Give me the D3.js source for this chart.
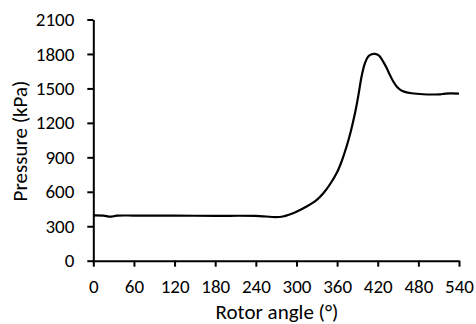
<!DOCTYPE html>
<html>
<head>
<meta charset="utf-8">
<script src="https://cdn.jsdelivr.net/npm/d3@7"></script>
<style>
  html, body { margin: 0; padding: 0; background: #fff; }
  svg text { font-family: Carlito, Lato, "Open Sans", sans-serif; fill: #000; }
</style>
</head>
<body>
<div id="container"></div>
<script>
"use strict"

// values
const angles = [0, 15, 25, 35, 60, 120, 180, 240, 255, 268, 280, 290, 300, 315, 330, 340, 350, 360,
    367, 374, 380, 384, 388, 392, 396, 401, 406, 411, 416, 422, 428, 433, 438, 443, 448, 454,
    460, 470, 487, 500, 512, 520, 540];
const pressures = [395, 393, 383, 392, 393, 392, 391, 390, 385, 380, 385, 403, 427, 472, 530, 589, 670, 770,
    870, 994, 1120, 1220, 1330, 1460, 1600, 1719, 1777, 1797, 1800, 1785, 1733, 1680, 1617, 1560, 1516, 1485,
    1470, 1458, 1449, 1447, 1448, 1455, 1455];
const xTicks = [0, 60, 120, 180, 240, 300, 360, 420, 480, 540];
const yTicks = [0, 300, 600, 900, 1200, 1500, 1800, 2100];
const xTitle = "Rotor angle (°)";
const yTitle = "Pressure (kPa)";

const width = 476;
const height = 324;
const plotLeft = 93.3;
const plotRight = 459;
const plotTop = 19.5;
const plotBottom = 260.7;
const tickFont = 19;
const titleFont = 21;

const points = angles.map((a, i) => ({ x: a, y: pressures[i] }));

const xScale = d3.scaleLinear().domain([0, 540]).range([plotLeft, plotRight]);
const yScale = d3.scaleLinear().domain([0, 2100]).range([plotBottom, plotTop]);

const svg = d3.select("#container")
    .append("svg")
    .attr("width", width)
    .attr("height", height);

// x axis
const xAxis = svg.append("g")
    .attr("transform", `translate(0,${plotBottom})`)
    .call(d3.axisBottom(xScale).tickValues(xTicks).tickFormat(d3.format("d"))
        .tickSize(6).tickSizeOuter(0).tickPadding(13));

// y axis
const yAxis = svg.append("g")
    .attr("transform", `translate(${plotLeft},0)`)
    .call(d3.axisLeft(yScale).tickValues(yTicks).tickFormat(d3.format("d"))
        .tickSize(6).tickSizeOuter(0).tickPadding(13));

[xAxis, yAxis].forEach(ax => {
    ax.select(".domain").attr("stroke", "#000").attr("stroke-width", 2);
    ax.selectAll(".tick line").attr("stroke", "#000").attr("stroke-width", 2);
    ax.selectAll(".tick text").style("font-size", tickFont + "px").attr("fill", "#000");
});

// the pressure curve
const line = d3.line()
    .x(d => xScale(d.x))
    .y(d => yScale(d.y))
    .curve(d3.curveCatmullRom.alpha(0.5));

svg.append("path")
    .datum(points)
    .attr("d", line)
    .attr("fill", "none")
    .attr("stroke", "#000")
    .attr("stroke-width", 2.2)
    .attr("stroke-linejoin", "round");

// axis titles
svg.append("text")
    .attr("x", 277)
    .attr("y", 318.5)
    .attr("text-anchor", "middle")
    .style("font-size", titleFont + "px")
    .text(xTitle);

svg.append("text")
    .attr("transform", `translate(27,141) rotate(-90)`)
    .attr("text-anchor", "middle")
    .style("font-size", titleFont + "px")
    .text(yTitle);
</script>
</body>
</html>
